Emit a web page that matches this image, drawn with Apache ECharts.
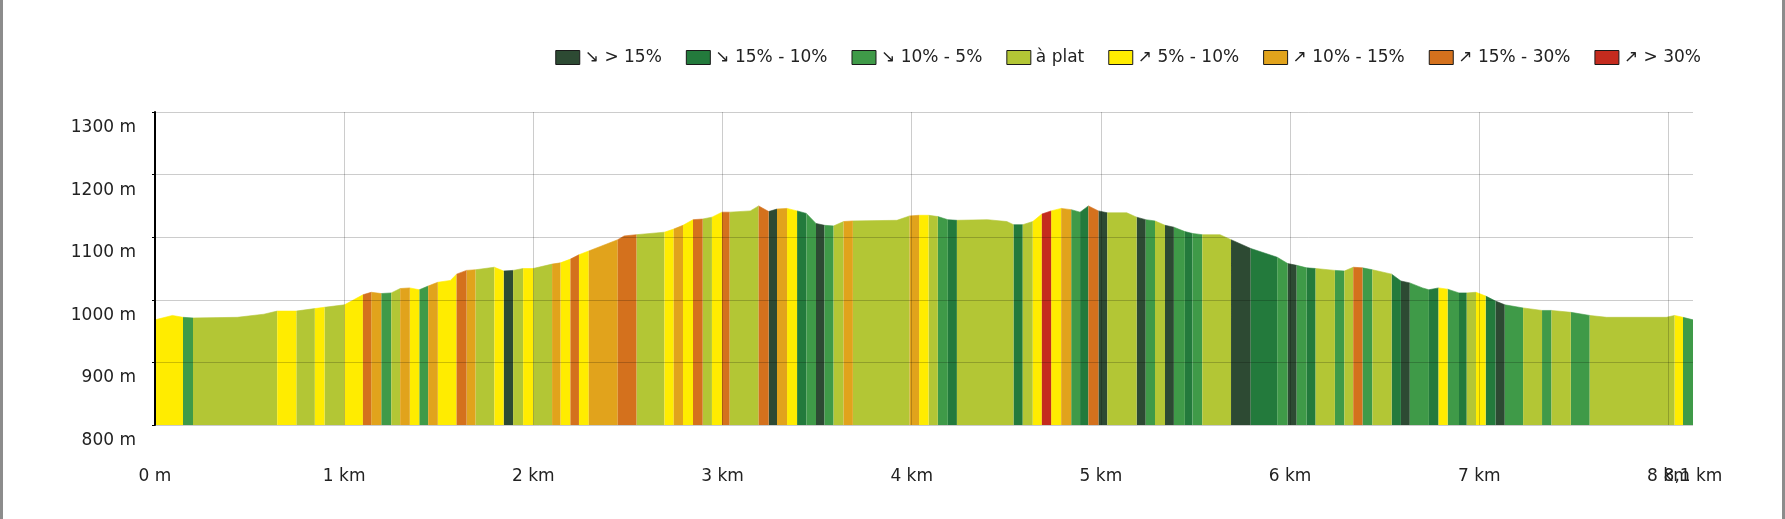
<!DOCTYPE html>
<html>
<head>
<meta charset="utf-8">
<title>Profil</title>
<script src="https://cdn.jsdelivr.net/npm/echarts@6/dist/echarts.min.js"></script>
<style>
  html, body { margin: 0; padding: 0; background: #fff; }
  #chart { position: absolute; left: 0; top: 0; width: 1785px; height: 519px; }
  .edge { position: absolute; top: 0; width: 3px; height: 519px; background: #8c8c8c; }
</style>
</head>
<body>
<div id="chart"></div>
<div class="edge" style="left:0"></div>
<div class="edge" style="right:0"></div>
<script>
// slope classes (legend order) and their colours
var categories = ['↘ > 15%', '↘ 15% - 10%', '↘ 10% - 5%', 'à plat',
                  '↗ 5% - 10%', '↗ 10% - 15%', '↗ 15% - 30%', '↗ > 30%'];
var colors = ['#2d4a33', '#237a3c', '#3f9a48', '#b3c635',
              '#ffec00', '#e1a31c', '#d4711d', '#c42b1e'];

// elevation profile: distance (m) / altitude (m)
var dist = [0, 92, 148, 201, 435, 576, 646, 747, 845, 896,
            1002, 1099, 1143, 1196, 1249, 1296, 1347, 1397, 1444, 1495,
            1562, 1594, 1647, 1694, 1794, 1843, 1893, 1946, 1999, 2099,
            2143, 2196, 2241, 2293, 2446, 2480, 2545, 2693, 2742, 2791,
            2844, 2895, 2944, 2997, 3037, 3147, 3191, 3244, 3288, 3341,
            3394, 3443, 3494, 3539, 3587, 3640, 3689, 3922, 3989, 4039,
            4089, 4138, 4191, 4239, 4400, 4503, 4538, 4587, 4640, 4688,
            4737, 4790, 4843, 4890, 4934, 4987, 5034, 5137, 5189, 5237,
            5286, 5339, 5386, 5444, 5484, 5536, 5630, 5688, 5792, 5932,
            5987, 6035, 6088, 6135, 6237, 6287, 6334, 6383, 6435, 6537,
            6586, 6633, 6700, 6734, 6785, 6833, 6893, 6934, 6983, 7034,
            7086, 7135, 7232, 7332, 7382, 7484, 7584, 7673, 7989, 8033,
            8077, 8130];
var elev = [968, 975, 972, 971, 972, 977, 982, 982, 986, 988,
            992, 1008, 1012, 1010, 1011, 1018, 1019, 1016, 1022, 1028,
            1031, 1041, 1047, 1048, 1052, 1046, 1047, 1050, 1050, 1057,
            1059, 1065, 1072, 1078, 1096, 1102, 1104, 1108, 1113, 1119,
            1128, 1129, 1132, 1140, 1140, 1142, 1150, 1141, 1145, 1146,
            1142, 1138, 1122, 1119, 1118, 1125, 1126, 1127, 1134, 1135,
            1135, 1133, 1128, 1127, 1128, 1125, 1120, 1120, 1125, 1137,
            1142, 1146, 1144, 1140, 1150, 1142, 1139, 1139, 1132, 1128,
            1126, 1119, 1116, 1109, 1106, 1104, 1104, 1096, 1082, 1068,
            1058, 1055, 1051, 1050, 1047, 1046, 1052, 1051, 1048, 1041,
            1030, 1027, 1019, 1016, 1019, 1017, 1011, 1011, 1012, 1006,
            998, 992, 987, 983, 983, 980, 975, 972, 972, 975,
            972, 968];

// coloured bands: end distance of each band and its slope class
var bandEnd = [148, 201, 646, 747, 845, 896, 1002, 1099, 1143, 1196,
               1249, 1296, 1347, 1397, 1444, 1495, 1594, 1647, 1694, 1794,
               1843, 1893, 1946, 1999, 2099, 2143, 2196, 2241, 2293, 2446,
               2545, 2693, 2742, 2791, 2844, 2895, 2944, 2997, 3037, 3191,
               3244, 3288, 3341, 3394, 3443, 3494, 3539, 3587, 3640, 3689,
               3989, 4039, 4089, 4138, 4191, 4239, 4538, 4587, 4640, 4688,
               4737, 4790, 4843, 4890, 4934, 4987, 5034, 5189, 5237, 5286,
               5339, 5386, 5444, 5484, 5536, 5688, 5792, 5932, 5987, 6035,
               6088, 6135, 6237, 6287, 6334, 6383, 6435, 6537, 6586, 6633,
               6734, 6785, 6833, 6893, 6934, 6983, 7034, 7086, 7135, 7232,
               7332, 7382, 7484, 7584, 8033, 8077, 8130];
var bandCat = [4, 2, 3, 4, 3, 4, 3, 4, 6, 5,
               2, 3, 5, 4, 2, 5, 4, 6, 5, 3,
               4, 0, 3, 4, 3, 5, 4, 6, 4, 5,
               6, 3, 4, 5, 4, 6, 3, 4, 6, 3,
               6, 0, 5, 4, 1, 2, 0, 2, 3, 5,
               3, 5, 4, 3, 2, 1, 3, 1, 3, 4,
               7, 4, 5, 2, 1, 6, 0, 3, 0, 2,
               3, 0, 2, 1, 2, 3, 0, 1, 2, 0,
               2, 1, 3, 2, 3, 6, 2, 3, 1, 0,
               2, 1, 4, 2, 1, 3, 4, 1, 0, 2,
               3, 2, 3, 2, 3, 4, 2];

var xMax = 8130;

function elevAt(d) {
  for (var i = 1; i < dist.length; i++) {
    if (d <= dist[i]) {
      var t = (d - dist[i - 1]) / (dist[i] - dist[i - 1]);
      return elev[i - 1] + t * (elev[i] - elev[i - 1]);
    }
  }
  return elev[elev.length - 1];
}

var seriesData = categories.map(function () { return []; });
var start = 0;
for (var b = 0; b < bandEnd.length; b++) {
  var end = bandEnd[b];
  var arr = seriesData[bandCat[b]];
  arr.push([start, elevAt(start)]);
  for (var i = 0; i < dist.length; i++) {
    if (dist[i] > start && dist[i] < end) arr.push([dist[i], elev[i]]);
  }
  arr.push([end, elevAt(end)]);
  arr.push([end, null]);
  start = end;
}

var font = 'DejaVu Sans';
var labelText = { fontFamily: font, fontSize: 17, color: '#222' };
var chart = echarts.init(document.getElementById('chart'));

var option = {
  animation: false,
  grid: { left: 155, right: 92, top: 112, bottom: 94 },
  legend: {
    right: 79,
    top: 44,
    icon: 'rect',
    itemWidth: 24,
    itemHeight: 14,
    itemGap: 24,
    selectedMode: false,
    itemStyle: { borderColor: '#1a1a1a', borderWidth: 1 },
    textStyle: labelText,
    data: categories
  },
  xAxis: [{
    type: 'value',
    min: 0,
    max: xMax,
    interval: 1000,
    z: 10,
    axisLine: { show: false },
    axisTick: { show: false },
    splitLine: { showMaxLine: false, lineStyle: { color: 'rgba(0,0,0,0.2)', width: 1 } },
    axisLabel: Object.assign({
      margin: 43,
      showMaxLabel: false,
      formatter: function (v) {
        if (v === 0) return '0 m';
        return (v / 1000) + ' km';
      }
    }, labelText)
  }, {
    // second axis on the same place, only for the end-of-track label
    type: 'value',
    position: 'bottom',
    min: 0,
    max: xMax,
    interval: 1000,
    axisLine: { show: false },
    axisTick: { show: false },
    splitLine: { show: false },
    axisLabel: Object.assign({
      margin: 43,
      showMinLabel: false,
      showMaxLabel: true,
      formatter: function (v) {
        if (v !== xMax) return '';
        return (v / 1000).toFixed(1).replace('.', ',') + ' km';
      }
    }, labelText)
  }],
  yAxis: {
    type: 'value',
    min: 800,
    max: 1300,
    interval: 100,
    z: 10,
    axisLine: { show: true, lineStyle: { color: '#000', width: 2 } },
    axisTick: { show: true, length: 3, lineStyle: { color: '#000' } },
    splitLine: { lineStyle: { color: 'rgba(0,0,0,0.2)', width: 1 } },
    axisLabel: Object.assign({
      margin: 19,
      verticalAlign: 'top',
      padding: [7, 0, 0, 0],
      formatter: function (v) { return v + ' m'; }
    }, labelText)
  },
  series: categories.map(function (name, k) {
    return {
      name: name,
      type: 'line',
      data: seriesData[k],
      showSymbol: false,
      symbol: 'none',
      connectNulls: false,
      silent: true,
      z: 2,
      itemStyle: { color: colors[k] },
      lineStyle: { width: 0.6, color: colors[k] },
      areaStyle: { color: colors[k], opacity: 1, origin: 'start' }
    };
  })
};

chart.setOption(option);
</script>
</body>
</html>
